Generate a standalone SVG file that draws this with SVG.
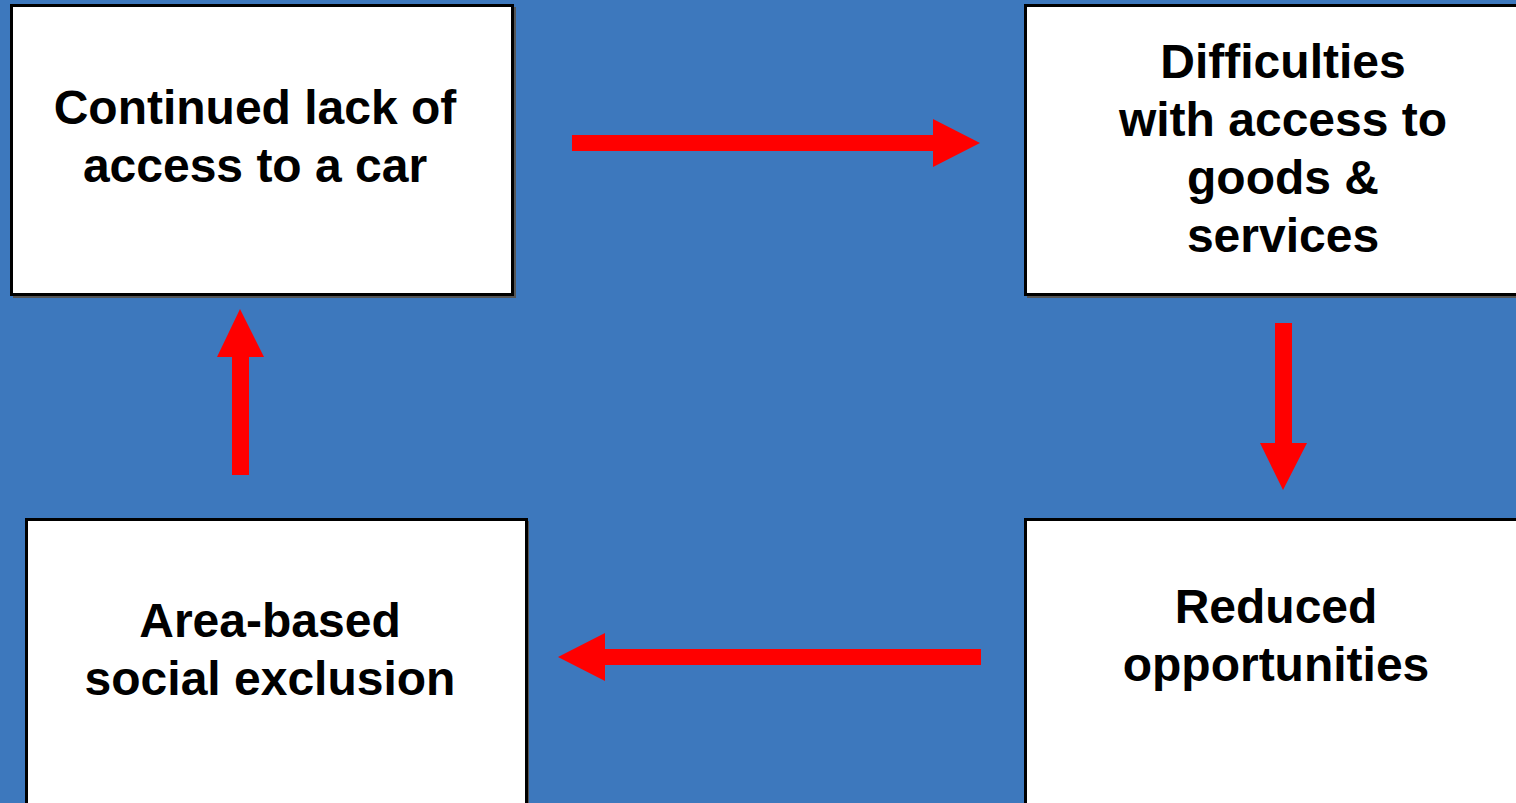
<svg xmlns="http://www.w3.org/2000/svg" width="1516" height="803" viewBox="0 0 1516 803">
<style>
.box{fill:#fff;stroke:#000;stroke-width:3}
.sh{fill:#555}
.t{font-family:"Liberation Sans",Arial,Helvetica,sans-serif;font-weight:bold;font-size:48px;fill:#000;text-anchor:middle}
.ar{fill:#ff0000}
</style>
<rect width="1516" height="803" fill="#3d78bd"/>
<g id="node-car">
<rect class="sh" x="13" y="7" width="503" height="291"/>
<rect class="box" x="11.5" y="5.5" width="501" height="289"/>
<text class="t" x="255" y="124">Continued lack of</text>
<text class="t" x="255" y="182">access to a car</text>
</g>
<g id="node-difficulties">
<rect class="sh" x="1027" y="7" width="500" height="291"/>
<rect class="box" x="1025.5" y="5.5" width="500" height="289"/>
<text class="t" x="1283" y="78">Difficulties</text>
<text class="t" x="1283" y="136">with access to</text>
<text class="t" x="1283" y="194">goods &amp;</text>
<text class="t" x="1283" y="252">services</text>
</g>
<g id="node-reduced">
<rect class="box" x="1025.5" y="519.5" width="500" height="300"/>
<text class="t" x="1276" y="623">Reduced</text>
<text class="t" x="1276" y="681">opportunities</text>
</g>
<g id="node-area">
<rect class="sh" x="28" y="521" width="501" height="300"/>
<rect class="box" x="26.5" y="519.5" width="500" height="300"/>
<text class="t" x="270" y="637">Area-based</text>
<text class="t" x="270" y="695">social exclusion</text>
</g>
<g id="connectors">
<polygon class="ar" points="572,135 933,135 933,119 980,143 933,167 933,151 572,151"/>
<polygon class="ar" points="1275,323 1292,323 1292,443 1307,443 1283,490 1260,443 1275,443"/>
<polygon class="ar" points="981,649 605,649 605,633 558,657 605,681 605,665 981,665"/>
<polygon class="ar" points="232,475 249,475 249,357 264,357 240,309 217,357 232,357"/>
</g>
</svg>
